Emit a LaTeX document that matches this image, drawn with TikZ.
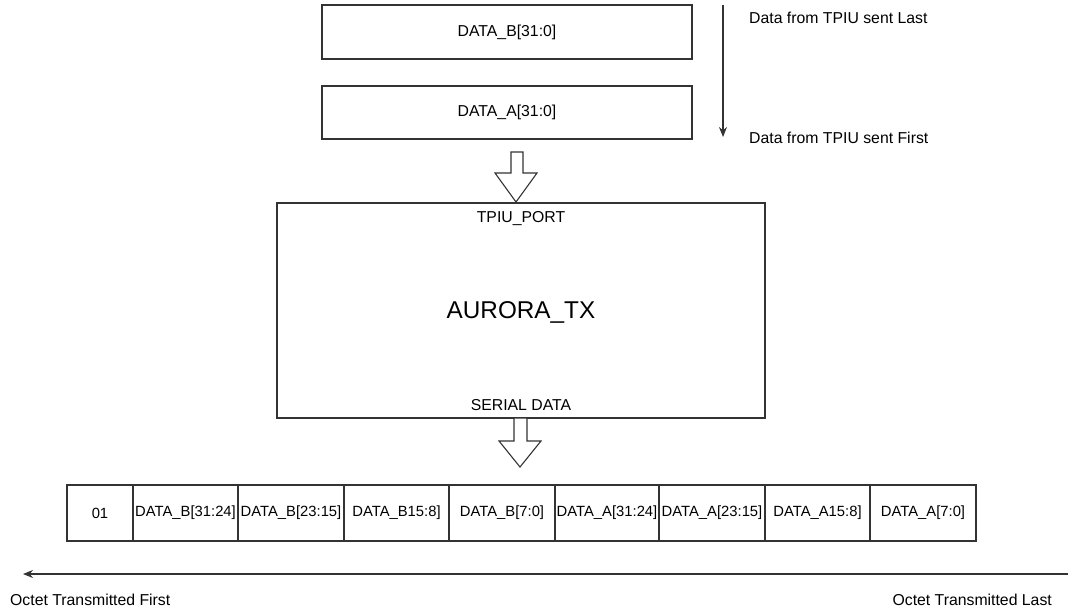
\documentclass[tikz,border=0pt]{standalone}
\usepackage{fontspec}
\setmainfont{Liberation Sans}
\usetikzlibrary{arrows.meta}
\begin{document}
\begin{tikzpicture}[x=1pt,y=-1pt,
  line/.style={draw=black!80, line width=1.1pt},
  box/.style={line, rectangle, inner sep=0pt, outer sep=0pt, anchor=north west},
  cell/.style={box, minimum height=56pt, font=\fontsize{14.8}{17}\selectfont},
  lbl/.style={inner sep=0pt, font=\fontsize{15.8}{18}\selectfont},
  hollow/.style={line, fill=white, line join=miter}
]
\useasboundingbox (0,0) rectangle (1070,613);

% top data boxes
\node[box, minimum width=370pt, minimum height=54pt, font=\fontsize{15.8}{18}\selectfont] (db) at (322,5) {DATA\_B[31:0]};
\node[box, minimum width=370pt, minimum height=53pt, font=\fontsize{15.8}{18}\selectfont] (da) at (322,86) {DATA\_A[31:0]};

% order arrow
\coordinate (v1) at (723,5);
\coordinate (v2) at (723,137);
\draw[line, -{Stealth[length=10pt,width=8pt]}] (v1) -- (v2);
\node[lbl, anchor=west] (last) at (749,18) {Data from TPIU sent Last};
\node[lbl, anchor=west] (first) at (749,138) {Data from TPIU sent First};

% main block
\node[box, minimum width=488pt, minimum height=215pt] (tx) at (277,203) {};
\node[lbl, font=\fontsize{24.3}{28}\selectfont] (txname) at (521,312) {AURORA\_TX};
\node[lbl] (port) at (521,219) {TPIU\_PORT};
\node[lbl] (serial) at (521,405) {SERIAL DATA};

% hollow arrow into block
\draw[hollow] (511,152) -- (523,152) -- (523,173) -- (537,173) -- (516,202) -- (495,173) -- (511,173) -- cycle;
% hollow arrow out of block
\draw[hollow] (514,418) -- (527,418) -- (527,441) -- (541,441) -- (520,467) -- (499,441) -- (514,441) -- cycle;

% serial octet row
\node[cell, minimum width=66pt] (c0) at (67,485) {01};
\node[cell, minimum width=105pt] (c1) at (133,485) {DATA\_B[31:24]};
\node[cell, minimum width=106pt] (c2) at (238,485) {DATA\_B[23:15]};
\node[cell, minimum width=105pt] (c3) at (344,485) {DATA\_B15:8]};
\node[cell, minimum width=106pt] (c4) at (449,485) {DATA\_B[7:0]};
\node[cell, minimum width=104pt] (c5) at (555,485) {DATA\_A[31:24]};
\node[cell, minimum width=106pt] (c6) at (659,485) {DATA\_A[23:15]};
\node[cell, minimum width=105pt] (c7) at (765,485) {DATA\_A15:8]};
\node[cell, minimum width=106pt] (c8) at (870,485) {DATA\_A[7:0]};

% transmission order arrow
\coordinate (h1) at (1068,574);
\coordinate (h2) at (23,574);
\draw[line, -{Stealth[length=10pt,width=8pt]}] (h1) -- (h2);
\node[lbl, anchor=west] (ofirst) at (10,600) {Octet Transmitted First};
\node[lbl, anchor=east] (olast) at (1052,600) {Octet Transmitted Last};
\end{tikzpicture}
\end{document}
